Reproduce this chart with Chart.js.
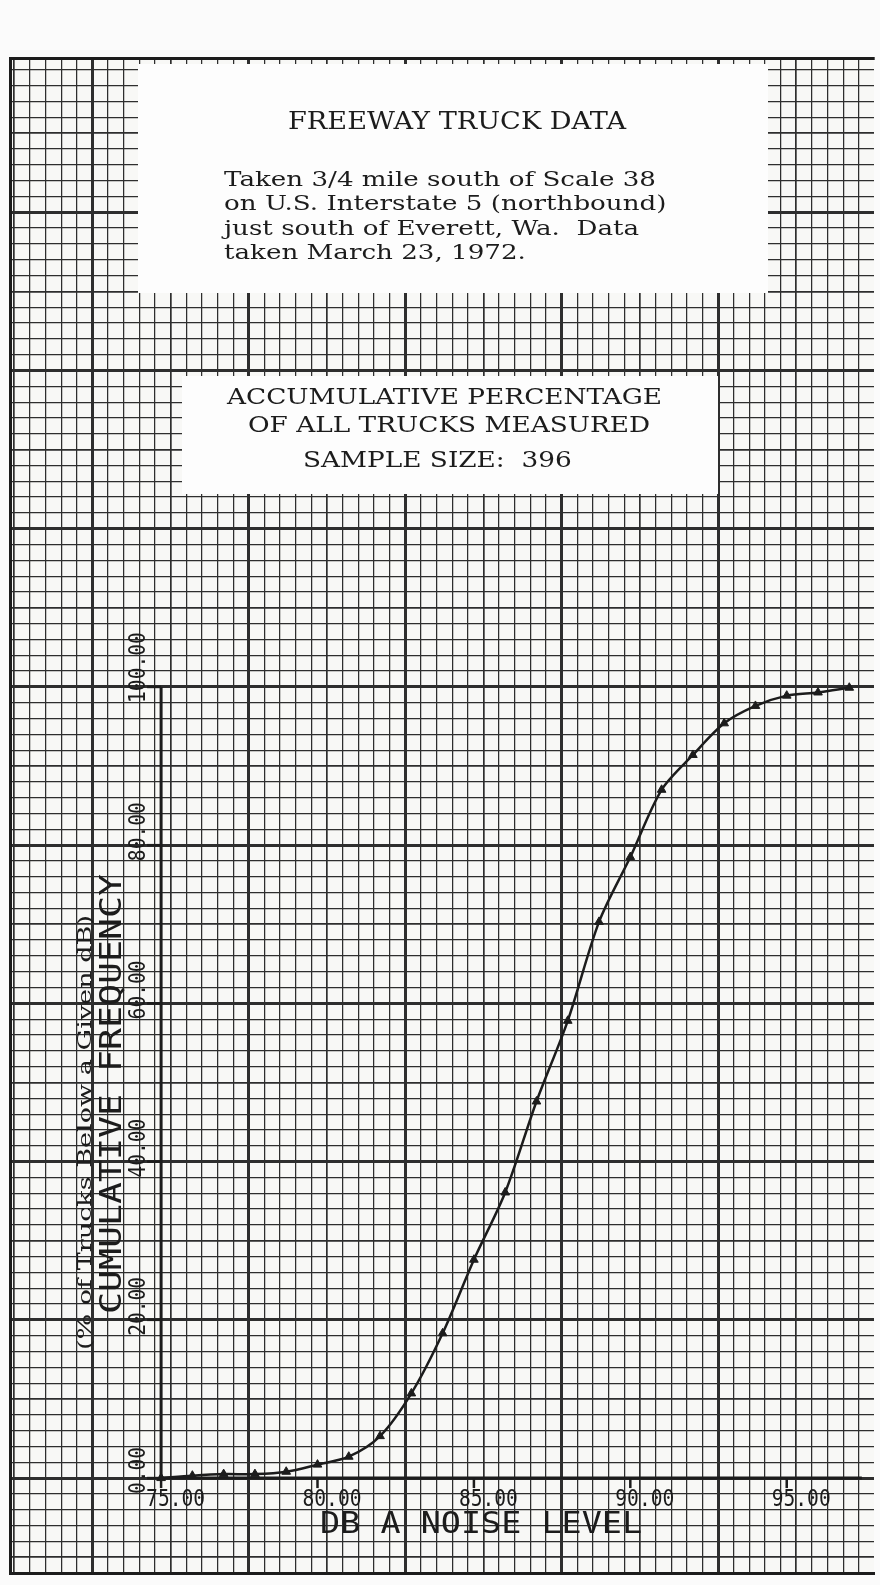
<!DOCTYPE html>
<html>
<head>
<meta charset="utf-8">
<script src="https://cdn.jsdelivr.net/npm/chart.js@4.4.1/dist/chart.umd.min.js"></script>
<style>
  html, body { margin: 0; padding: 0; background: #fbfbfb; }
  canvas { display: block; }
</style>
</head>
<body>
<canvas id="chart" width="880" height="1585" style="width:880px;height:1585px"></canvas>
<script>
// Freeway truck noise - cumulative frequency
const noiseDb = [75, 76, 77, 78, 79, 80, 81, 82, 83, 84, 85, 86, 87, 88, 89, 90, 91, 92, 93, 94, 95, 96, 97];
const cumulativePct = [0, 0.3, 0.5, 0.5, 0.8, 1.7, 2.7, 5.3, 10.7, 18.3, 27.6, 36.1, 47.6, 57.8, 70.3, 78.5, 87.0, 91.4, 95.4, 97.6, 98.9, 99.3, 99.9];

const xTickValues = [75, 80, 85, 90, 95];
const xTickLabels = ["75.00", "80.00", "85.00", "90.00", "95.00"];
const yTickValues = [0, 20, 40, 60, 80, 100];
const yTickLabels = ["0.00", "20.00", "40.00", "60.00", "80.00", "100.00"];

const xAxisTitle = "DB A NOISE LEVEL";
const yAxisTitle = "CUMULATIVE FREQUENCY";
const yAxisNote = "(% of Trucks Below a Given dB)";

const headerTitle = "FREEWAY TRUCK DATA";
const headerLines = [
    "Taken 3/4 mile south of Scale 38",
    "on U.S. Interstate 5 (northbound)",
    "just south of Everett, Wa.  Data",
    "taken March 23, 1972.",
];
const subtitleLines = ["ACCUMULATIVE PERCENTAGE", "OF ALL TRUCKS MEASURED", "SAMPLE SIZE:  396"];

const INK = "#1c1c1c";
const PAPER = "#f8f8f6";

// draw text squeezed/stretched to a given width
function fitText(ctx, text, x, y, width, font, angle) {
    ctx.save();
    ctx.font = font;
    const w = ctx.measureText(text).width;
    ctx.translate(x, y);
    if (angle) ctx.rotate(angle);
    ctx.scale(width / w, 1);
    ctx.textAlign = "left";
    ctx.textBaseline = "alphabetic";
    ctx.fillText(text, 0, 0);
    ctx.restore();
}

// block of lines, all with the stretch factor that fits the first line
function textBlock(ctx, lines, xs, y0, step, firstWidth, font) {
    ctx.font = font;
    const k = firstWidth / ctx.measureText(lines[0]).width;
    lines.forEach((line, i) => {
        const w = ctx.measureText(line).width * k;
        fitText(ctx, line, Array.isArray(xs) ? xs[i] : xs, Array.isArray(y0) ? y0[i] : y0 + i * step, w, font);
    });
}

const paperPlugin = {
    id: "paper",
    beforeDraw(chart) {
        const { ctx, chartArea: a } = chart;
        ctx.save();
        ctx.fillStyle = "#fbfbfb";
        ctx.fillRect(0, 0, chart.width, chart.height);
        ctx.fillStyle = PAPER;
        ctx.fillRect(a.left, a.top, a.right - a.left, a.bottom - a.top);
        ctx.restore();
    },
    beforeDatasetsDraw(chart) {
        const { ctx } = chart;
        const xs = chart.scales.x, ys = chart.scales.y;
        ctx.save();

        // white label boxes pasted on the paper
        ctx.fillStyle = "#fdfdfd";
        ctx.fillRect(138, 64, 630, 229);
        ctx.fillRect(182, 376, 536, 118);

        ctx.fillStyle = INK;
        fitText(ctx, headerTitle, 288, 129, 338, "24px 'DejaVu Serif'");
        textBlock(ctx, headerLines, 224, 186, 24.3, 432, "21px 'DejaVu Serif'");
        textBlock(ctx, subtitleLines, [227, 248, 303], [404, 432, 467], 0, 435, "23px 'DejaVu Serif'");

        // plotter axes
        const x0 = xs.getPixelForValue(noiseDb[0]);
        const y0 = ys.getPixelForValue(yTickValues[0]);
        const yTop = ys.getPixelForValue(yTickValues[yTickValues.length - 1]);
        const xEnd = xs.getPixelForValue(97.4);
        ctx.strokeStyle = INK;
        ctx.lineWidth = 3;
        ctx.beginPath();
        ctx.moveTo(x0, yTop);
        ctx.lineTo(x0, y0);
        ctx.lineTo(xEnd, y0);
        ctx.stroke();

        ctx.lineWidth = 2.5;
        const monoFont = "23px 'DejaVu Sans Mono'";
        const pitch = 11.8;
        xTickValues.forEach((v, i) => {
            const px = xs.getPixelForValue(v);
            ctx.beginPath();
            ctx.moveTo(px, y0);
            ctx.lineTo(px, y0 + 10);
            ctx.stroke();
            fitText(ctx, xTickLabels[i], px - 15, y0 + 28, pitch * xTickLabels[i].length, monoFont);
        });
        yTickValues.forEach((v, i) => {
            const py = ys.getPixelForValue(v);
            ctx.beginPath();
            ctx.moveTo(x0 - 14, py);
            ctx.lineTo(x0, py);
            ctx.stroke();
            fitText(ctx, yTickLabels[i], x0 - 16, py + 16, pitch * yTickLabels[i].length, monoFont, -Math.PI / 2);
        });

        fitText(ctx, xAxisTitle, x0 + 159, y0 + 55, 322, "30px 'DejaVu Sans Mono'");
        fitText(ctx, yAxisTitle, x0 - 40, y0 - 164, 440, "30px 'DejaVu Sans Mono'", -Math.PI / 2);
        fitText(ctx, yAxisNote, x0 - 70, y0 - 128, 435, "19px 'DejaVu Serif'", -Math.PI / 2);

        ctx.restore();
    },
};

const heavyWidth = 3, mediumWidth = 1.7, minorWidth = 1.25;

new Chart(document.getElementById("chart").getContext("2d"), {
    type: "line",
    data: {
        datasets: [{
            label: "Cumulative frequency",
            data: noiseDb.map((db, i) => ({ x: db, y: cumulativePct[i] })),
            xAxisID: "x",
            yAxisID: "y",
            borderColor: INK,
            borderWidth: 2.5,
            backgroundColor: INK,
            pointStyle: "triangle",
            pointRadius: 5,
            pointBackgroundColor: INK,
            pointBorderColor: INK,
            pointBorderWidth: 1,
            tension: 0.3,
            fill: false,
            clip: false,
        }],
    },
    options: {
        responsive: false,
        devicePixelRatio: 1,
        animation: false,
        events: [],
        layout: { padding: { left: 10, top: 58, right: 0, bottom: 12 } },
        scales: {
            x: {
                type: "linear",
                position: "bottom",
                min: 70.17,
                max: 97.79,
                grid: { display: false, drawTicks: false },
                ticks: { display: false },
                border: { display: true, width: 3, color: INK },
            },
            xp: {
                type: "linear",
                position: "top",
                min: -0.27,
                max: 54.97,
                ticks: { display: false, stepSize: 1, autoSkip: false, includeBounds: false },
                grid: {
                    drawTicks: false,
                    color: "#2e2e2e",
                    lineWidth: (c) => {
                        const k = Math.abs(Math.round(c.tick.value)) % 10;
                        return k === 5 ? heavyWidth : k === 0 ? mediumWidth : minorWidth;
                    },
                },
                border: { display: true, width: 3, color: INK },
            },
            y: {
                type: "linear",
                min: -12,
                max: 179.5,
                ticks: { display: false, stepSize: 2, autoSkip: false, includeBounds: false },
                grid: {
                    drawTicks: false,
                    color: "#2e2e2e",
                    lineWidth: (c) => {
                        const v = Math.abs(Math.round(c.tick.value));
                        return v % 20 === 0 ? heavyWidth : v % 10 === 0 ? mediumWidth : minorWidth;
                    },
                },
                border: { display: true, width: 3, color: INK },
            },
        },
        plugins: {
            legend: { display: false },
            tooltip: { enabled: false },
        },
    },
    plugins: [paperPlugin],
});
</script>
</body>
</html>
